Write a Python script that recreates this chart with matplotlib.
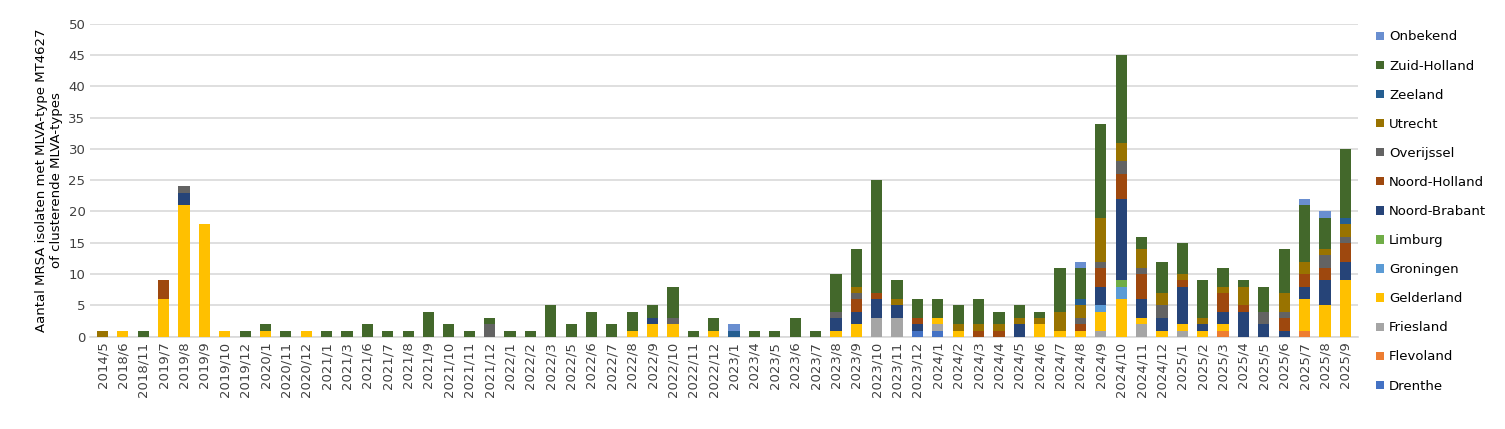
import matplotlib
matplotlib.use("Agg")
import matplotlib.pyplot as plt
import numpy as np

plt.rcParams['font.family'] = ['DejaVu Sans']

months = ["2014/5","2018/6","2018/11","2019/7","2019/8","2019/9","2019/10","2019/12","2020/1","2020/11",
          "2020/12","2021/1","2021/3","2021/6","2021/7","2021/8","2021/9","2021/10","2021/11","2021/12",
          "2022/1","2022/2","2022/3","2022/5","2022/6","2022/7","2022/8","2022/9","2022/10","2022/11",
          "2022/12","2023/1","2023/4","2023/5","2023/6","2023/7","2023/8","2023/9","2023/10","2023/11",
          "2023/12","2024/1","2024/2","2024/3","2024/4","2024/5","2024/6","2024/7","2024/8","2024/9",
          "2024/10","2024/11","2024/12","2025/1","2025/2","2025/3","2025/4","2025/5","2025/6","2025/7",
          "2025/8","2025/9"]

drenthe = [0,0,0,0,0,0,0,0,0,0, 0,0,0,0,0,0,0,0,0,0, 0,0,0,0,0,0,0,0,0,0, 0,0,0,0,0,0,0,0,0,0,
           1,1,0,0,0,0,0,0,0,0, 0,0,0,0,0,0,0,0,0,0, 0,0]
flevoland = [0,0,0,0,0,0,0,0,0,0, 0,0,0,0,0,0,0,0,0,0, 0,0,0,0,0,0,0,0,0,0, 0,0,0,0,0,0,0,0,0,0,
             0,0,0,0,0,0,0,0,0,0, 0,0,0,0,0,1,0,0,0,1, 0,0]
friesland = [0,0,0,0,0,0,0,0,0,0, 0,0,0,0,0,0,0,0,0,0, 0,0,0,0,0,0,0,0,0,0, 0,0,0,0,0,0,0,0,3,3,
             0,1,0,0,0,0,0,0,0,1, 0,2,0,1,0,0,0,0,0,0, 0,0]
gelderland = [0,1,0,6,21,18,1,0,1,0, 1,0,0,0,0,0,0,0,0,0, 0,0,0,0,0,0,1,2,2,0, 1,0,0,0,0,0,1,2,0,0,
              0,1,1,0,0,0,2,1,1,3, 6,1,1,1,1,1,0,0,0,5, 5,9]
groningen = [0,0,0,0,0,0,0,0,0,0, 0,0,0,0,0,0,0,0,0,0, 0,0,0,0,0,0,0,0,0,0, 0,0,0,0,0,0,0,0,0,0,
             0,0,0,0,0,0,0,0,0,1, 2,0,0,0,0,0,0,0,0,0, 0,0]
limburg = [0,0,0,0,0,0,0,0,0,0, 0,0,0,0,0,0,0,0,0,0, 0,0,0,0,0,0,0,0,0,0, 0,0,0,0,0,0,0,0,0,0,
           0,0,0,0,0,0,0,0,0,0, 1,0,0,0,0,0,0,0,0,0, 0,0]
noord_brabant = [0,0,0,0,2,0,0,0,0,0, 0,0,0,0,0,0,0,0,0,0, 0,0,0,0,0,0,0,1,0,0, 0,0,0,0,0,0,2,2,3,2,
                 1,0,0,0,0,2,0,0,0,3, 13,3,2,6,1,2,4,2,1,2, 4,3]
noord_holland = [0,0,0,3,0,0,0,0,0,0, 0,0,0,0,0,0,0,0,0,0, 0,0,0,0,0,0,0,0,0,0, 0,0,0,0,0,0,0,2,1,0,
                 1,0,0,1,1,0,0,0,1,3, 4,4,0,1,0,3,1,0,2,2, 2,3]
overijssel = [0,0,0,0,1,0,0,0,0,0, 0,0,0,0,0,0,0,0,0,2, 0,0,0,0,0,0,0,0,1,0, 0,0,0,0,0,0,1,1,0,0,
              0,0,0,0,0,0,0,0,1,1, 2,1,2,0,0,0,0,2,1,0, 2,1]
utrecht = [1,0,0,0,0,0,0,0,0,0, 0,0,0,0,0,0,0,0,0,0, 0,0,0,0,0,0,0,0,0,0, 0,0,0,0,0,0,0,1,0,1,
           0,0,1,1,1,1,1,3,2,7, 3,3,2,1,1,1,3,0,3,2, 1,2]
zeeland = [0,0,0,0,0,0,0,0,0,0, 0,0,0,0,0,0,0,0,0,0, 0,0,0,0,0,0,0,0,0,0, 0,1,0,0,0,0,0,0,0,0,
           0,0,0,0,0,0,0,0,1,0, 0,0,0,0,0,0,0,0,0,0, 0,1]
zuid_holland = [0,0,1,0,0,0,0,1,1,1, 0,1,1,2,1,1,4,2,1,1, 1,1,5,2,4,2,3,2,5,1, 2,0,1,1,3,1,6,6,18,3,
                3,3,3,4,2,2,1,7,5,15, 14,2,5,5,6,3,1,4,7,9, 5,11]
onbekend = [0,0,0,0,0,0,0,0,0,0, 0,0,0,0,0,0,0,0,0,0, 0,0,0,0,0,0,0,0,0,0, 0,1,0,0,0,0,0,0,0,0,
            0,0,0,0,0,0,0,0,1,0, 0,0,0,0,0,0,0,0,0,1, 1,0]

series = [("Drenthe", drenthe, "#4472C4"), ("Flevoland", flevoland, "#ED7D31"),
          ("Friesland", friesland, "#A5A5A5"), ("Gelderland", gelderland, "#FFC000"),
          ("Groningen", groningen, "#5B9BD5"), ("Limburg", limburg, "#70AD47"),
          ("Noord-Brabant", noord_brabant, "#264478"), ("Noord-Holland", noord_holland, "#9E480E"),
          ("Overijssel", overijssel, "#636363"), ("Utrecht", utrecht, "#997300"),
          ("Zeeland", zeeland, "#255E91"), ("Zuid-Holland", zuid_holland, "#43682B"),
          ("Onbekend", onbekend, "#698ED0")]

fig = plt.figure(figsize=(15.05, 4.29), dpi=100)
ax = fig.add_axes([0.060, 0.215, 0.842, 0.73])
x = np.arange(len(months))
bottom = np.zeros(len(months))
handles = []
for name, vals, col in series:
    v = np.array(vals, dtype=float)
    h = ax.bar(x, v, 0.55, bottom=bottom, color=col, label=name, zorder=3)
    handles.append(h)
    bottom += v

ax.set_xlim(-0.6, len(months) - 0.4)
ax.set_ylim(0, 50)
ax.set_yticks(range(0, 51, 5))
ax.yaxis.grid(True, color="#D9D9D9", linewidth=1.2, zorder=0)
for s in ["top", "right", "left"]:
    ax.spines[s].set_visible(False)
ax.spines["bottom"].set_color("#D9D9D9")
ax.spines["bottom"].set_linewidth(1.2)
ax.tick_params(axis="both", length=0, labelsize=9.5, colors="#404040")
ax.set_xticks(x)
ax.set_xticklabels(months, rotation=90, fontsize=9.5)
ax.set_ylabel("Aantal MRSA isolaten met MLVA-type MT4627\nof clusterende MLVA-types", fontsize=9.5, color="#000000")

ax.legend(handles[::-1], [s[0] for s in series][::-1], loc="center left", bbox_to_anchor=(1.005, 0.40),
          frameon=False, fontsize=9.5, handlelength=0.6, handleheight=0.6, handletextpad=0.4,
          labelspacing=1.22)

fig.savefig("out.png", dpi=100)
